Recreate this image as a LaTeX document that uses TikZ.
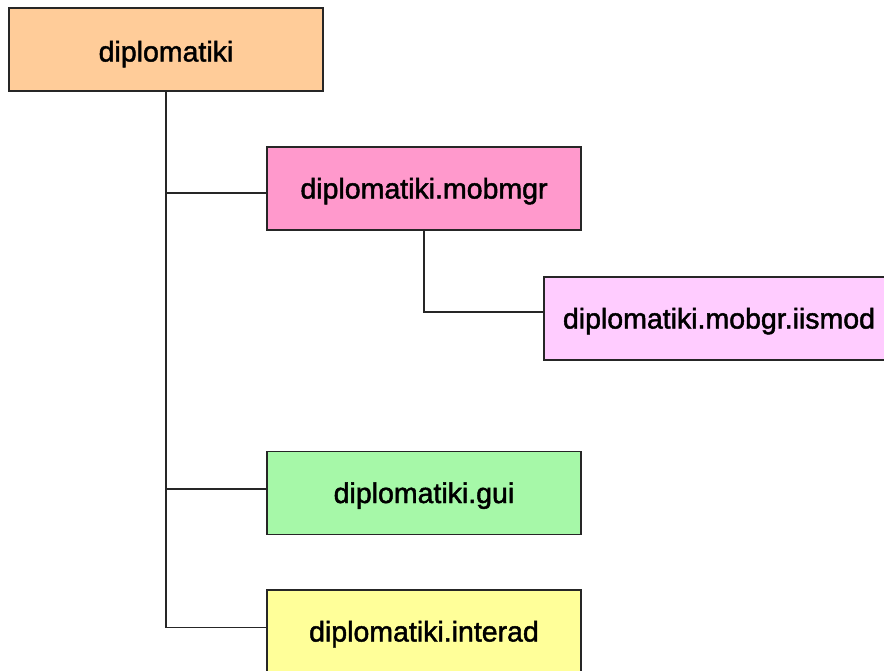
\documentclass[tikz,border=0pt]{standalone}
\usepackage{fontspec}
\setmainfont{Liberation Sans}
\newfontfamily\pkgfont[FakeBold=1.6]{Liberation Sans}

\definecolor{rootorange}{HTML}{FFCC99}
\definecolor{mobpink}{HTML}{FF99CC}
\definecolor{iislilac}{HTML}{FFCCFF}
\definecolor{guigreen}{HTML}{A6F8A8}
\definecolor{interyellow}{HTML}{FFFF99}

\tikzset{
  pkg/.style={draw=black!85, line width=1.2pt, rectangle, inner sep=0pt,
    minimum width=314pt, minimum height=83pt,
    text height=20pt, text depth=0pt,
    font=\pkgfont\fontsize{28.5}{34}\selectfont},
  link/.style={draw=black!85, line width=1.3pt}
}

\begin{document}
\begin{tikzpicture}[x=1pt,y=-1pt]

\useasboundingbox (0,0) rectangle (884,670);
\clip (0,0) rectangle (884,670);

% Pacotes
\node[pkg, fill=rootorange, text height=24pt] (root) at (166,49.5) {diplomatiki};
\node[pkg, fill=mobpink] (mobmgr) at (424,188.5) {diplomatiki.mobmgr};
\node[pkg, fill=iislilac, minimum width=350pt] (iismod) at (719,318.5) {diplomatiki.mobgr.iismod};
\node[pkg, fill=guigreen] (gui) at (424,493) {diplomatiki.gui};
\node[pkg, fill=interyellow] (interad) at (424,631.5) {diplomatiki.interad};

% Ligacoes da raiz
\coordinate (trunk) at ([yshift=4pt]interad.west -| root.south);
\draw[link] (root.south) -- (trunk) -- ([yshift=4pt]interad.west);
\draw[link] ([yshift=-4.5pt]mobmgr.west -| root.south) -- ([yshift=-4.5pt]mobmgr.west);
\draw[link] ([yshift=4pt]gui.west -| root.south) -- ([yshift=4pt]gui.west);

% Subpacote de mobmgr
\draw[link] (mobmgr.south) |- ([yshift=6.5pt]iismod.west);

\end{tikzpicture}
\end{document}
